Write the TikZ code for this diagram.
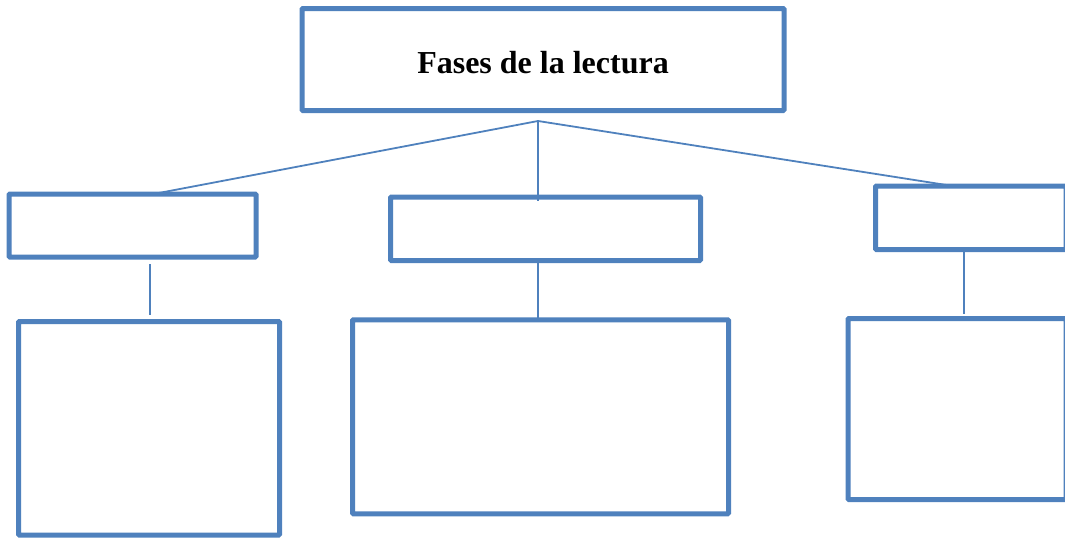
\documentclass[tikz,border=0pt]{standalone}
\usepackage{fontspec}
\setmainfont{Liberation Serif}
\definecolor{boxblue}{HTML}{4F81BD}
\begin{document}
\begin{tikzpicture}[x=1pt,y=-1pt,
  box/.style={draw=boxblue, line width=5pt, rectangle, rounded corners=1pt, outer sep=0pt, inner sep=0pt, fill=white},
  link/.style={draw=boxblue, line width=1.8pt}]
\useasboundingbox (0,0) rectangle (1065,538);
\clip (0,0) rectangle (1065,538);
% top box
\node[box, minimum width=482pt, minimum height=102pt, text height=27pt, text depth=0pt, font=\bfseries\fontsize{32}{38}\selectfont] (top) at (543,59.5) {Fases de la lectura};
% small boxes
\node[box, minimum width=247pt, minimum height=63pt] (ls) at (132.5,225.5) {};
\node[box, minimum width=310pt, minimum height=63.5pt] (ms) at (545.5,228.75) {};
\node[box, minimum width=190.5pt, minimum height=63.5pt] (rs) at (970.75,217.75) {};
% big boxes
\node[box, minimum width=261pt, minimum height=213.5pt] (lb) at (149,428.25) {};
\node[box, minimum width=376pt, minimum height=194pt] (mb) at (540.5,416.75) {};
\node[box, minimum width=218pt, minimum height=181pt] (rb) at (957,409) {};
% connectors
\coordinate (apex) at (538,121);
\coordinate (rx) at (964.3,0);
\draw[link] (apex) -- ([xshift=21pt]ls.north);
\draw[link] (apex) -- ([xshift=-18pt]rs.north);
\draw[link] (apex) -- ([yshift=-4pt]apex |- ms.north);
\draw[link] ([xshift=17.5pt,yshift=-7pt]ls.south) -- ([xshift=1pt,yshift=7pt]lb.north);
\draw[link] ([yshift=-2pt]ms.south -| apex) -- (apex |- mb.north);
\draw[link] ([yshift=-2.5pt]rs.south -| rx) -- ([yshift=4.5pt]rb.north -| rx);
\end{tikzpicture}
\end{document}
